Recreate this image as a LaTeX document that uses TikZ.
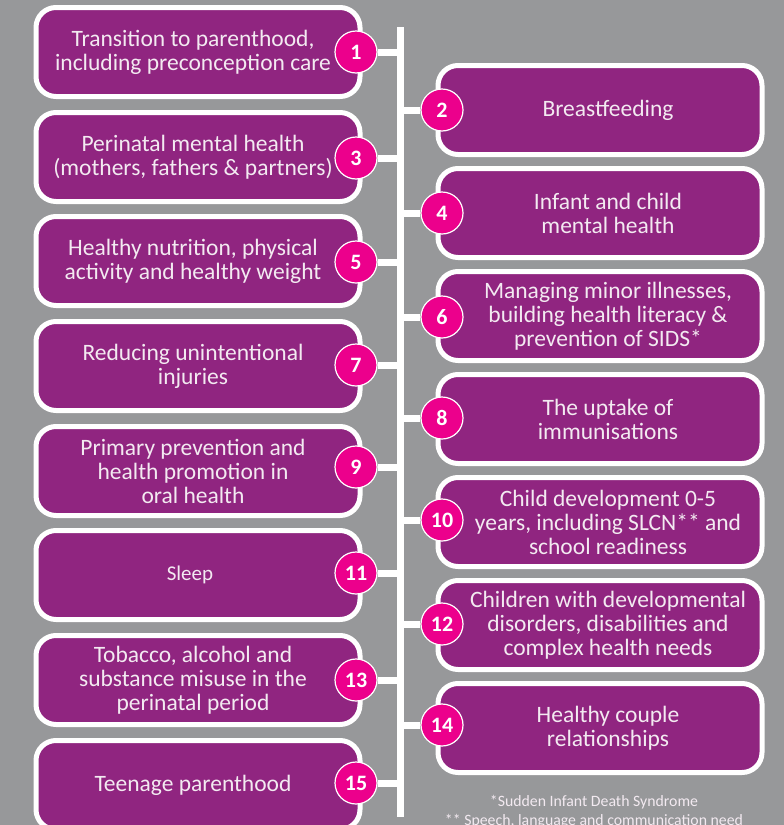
\documentclass[tikz,border=0pt]{standalone}
\usepackage{fontspec}
\setmainfont{Carlito}
\definecolor{bggrey}{HTML}{97989A}
\definecolor{topicpurple}{HTML}{902580}
\definecolor{dotpink}{HTML}{EC008C}
\definecolor{softwhite}{HTML}{F3EAF1}
\tikzset{
  topicbox/.style={draw=white, line width=5pt, fill=topicpurple, rounded corners=20pt,
    minimum width=324pt, minimum height=89pt},
  topictext/.style={align=center, text=softwhite, inner sep=0pt,
    font=\fontsize{23.5}{24}\selectfont},
  numdot/.style={circle, draw=white, line width=1.2pt, fill=dotpink, minimum size=42pt,
    inner sep=0pt, text=white, font=\bfseries\fontsize{22}{24}\selectfont},
  spine/.style={draw=white, line width=7pt},
  footnote/.style={text=softwhite, font=\fontsize{15.8}{18}\selectfont}
}
\begin{document}
\begin{tikzpicture}[x=1pt,y=-1pt]
  \useasboundingbox[fill=bggrey] (0,0) rectangle (784,825);
  % topics on the left
  \node[topicbox] (b1) at (198,52) {};
  \node[topicbox] (b3) at (198,157) {};
  \node[topicbox] (b5) at (198,261) {};
  \node[topicbox] (b7) at (198,366) {};
  \node[topicbox] (b9) at (198,471) {};
  \node[topicbox] (b11) at (198,575) {};
  \node[topicbox] (b13) at (198,680) {};
  \node[topicbox] (b15) at (198,785) {};
  \node[topictext] (t1) at ([xshift=-5pt]b1.center) {Transition to parenthood,\\including preconception care};
  \node[topictext] (t3) at ([xshift=-5pt]b3.center) {Perinatal mental health\\(mothers, fathers \& partners)};
  \node[topictext] (t5) at ([xshift=-5pt]b5.center) {Healthy nutrition, physical\\activity and healthy weight};
  \node[topictext] (t7) at ([xshift=-5pt]b7.center) {Reducing unintentional\\injuries};
  \node[topictext] (t9) at ([xshift=-5pt]b9.center) {Primary prevention and\\health promotion in\\oral health};
  \node[topictext, font=\fontsize{21}{24}\selectfont] (t11) at ([xshift=-8pt]b11.center) {Sleep};
  \node[topictext] (t13) at ([xshift=-5pt]b13.center) {Tobacco, alcohol and\\substance misuse in the\\perinatal period};
  \node[topictext] (t15) at ([xshift=-5pt]b15.center) {Teenage parenthood};
  % topics on the right
  \node[topicbox] (b2) at (600,110) {};
  \node[topicbox] (b4) at (600,213) {};
  \node[topicbox] (b6) at (600,316) {};
  \node[topicbox] (b8) at (600,419) {};
  \node[topicbox] (b10) at (600,522) {};
  \node[topicbox] (b12) at (600,625) {};
  \node[topicbox] (b14) at (600,728) {};
  \node[topictext] (t2) at ([xshift=8pt]b2.center) {Breastfeeding};
  \node[topictext] (t4) at ([xshift=8pt]b4.center) {Infant and child\\mental health};
  \node[topictext] (t6) at ([xshift=8pt]b6.center) {Managing minor illnesses,\\building health literacy \&\\prevention of SIDS*};
  \node[topictext] (t8) at ([xshift=8pt]b8.center) {The uptake of\\immunisations};
  \node[topictext] (t10) at ([xshift=8pt]b10.center) {Child development 0-5\\years, including SLCN** and\\school readiness};
  \node[topictext] (t12) at ([xshift=8pt]b12.center) {Children with developmental\\disorders, disabilities and\\complex health needs};
  \node[topictext] (t14) at ([xshift=8pt]b14.center) {Healthy couple\\relationships};
  % numbers
  \node[numdot] (n1) at (356,52) {1};
  \node[numdot] (n3) at (356,158) {3};
  \node[numdot] (n5) at (356,262) {5};
  \node[numdot] (n7) at (356,365) {7};
  \node[numdot] (n9) at (356,467) {9};
  \node[numdot] (n11) at (356,573) {11};
  \node[numdot] (n13) at (356,680) {13};
  \node[numdot] (n15) at (356,783) {15};
  \node[numdot] (n2) at (442,110) {2};
  \node[numdot] (n4) at (442,213) {4};
  \node[numdot] (n6) at (442,317) {6};
  \node[numdot] (n8) at (442,418) {8};
  \node[numdot] (n10) at (442,520) {10};
  \node[numdot] (n12) at (442,624) {12};
  \node[numdot] (n14) at (442,725) {14};
  % spine and ticks
  \coordinate (top) at (400,27);
  \coordinate (bot) at (400,817);
  \draw[spine] (top) -- (bot);
  \foreach \n in {1,3,5,7,9,11,13,15}
    \draw[spine] (n\n.east) -- (n\n -| top);
  \foreach \n in {2,4,6,8,10,12,14}
    \draw[spine] (n\n.west) -- (n\n -| top);
  % footnotes
  \node[footnote] (f1) at (594,802) {*Sudden Infant Death Syndrome};
  \node[footnote] (f2) at (594,821) {** Speech, language and communication need};
\end{tikzpicture}
\end{document}
